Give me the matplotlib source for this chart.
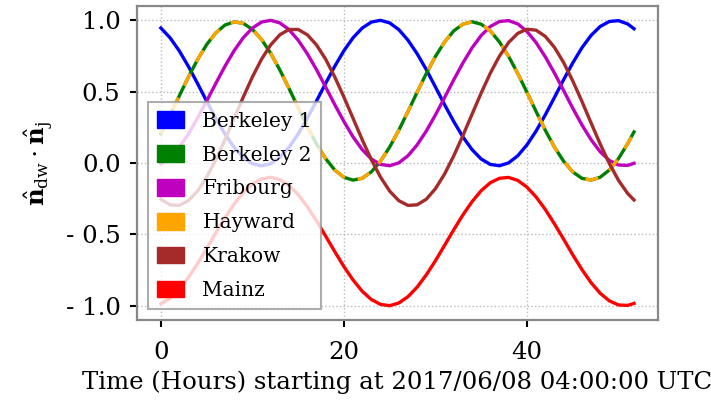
"""
Projection of the dark-matter wind direction onto each station's sensitive
axis, over roughly two days.
"""

import matplotlib
matplotlib.use("Agg")
import matplotlib.pyplot as plt
from matplotlib.patches import Patch
from matplotlib.ticker import FuncFormatter

plt.rcParams["font.family"] = ["DejaVu Serif"]
plt.rcParams["mathtext.fontset"] = "dejavuserif"

# time in hours since 2017/06/08 04:00:00 UTC
hours = list(range(52)) + [51.7]

berkeley_1 = [
    0.946, 0.878, 0.787, 0.678, 0.558, 0.434, 0.314, 0.203, 0.110, 0.039,
    -0.005, -0.020, -0.005, 0.039, 0.110, 0.203, 0.314, 0.434, 0.558, 0.678,
    0.787, 0.878, 0.946, 0.988, 1.000, 0.982, 0.935, 0.861, 0.766, 0.655,
    0.533, 0.409, 0.291, 0.183, 0.094, 0.028, -0.010, -0.019, 0.001, 0.051,
    0.127, 0.224, 0.337, 0.459, 0.583, 0.701, 0.807, 0.894, 0.957, 0.992,
    0.998, 0.975, 0.941,
]
berkeley_2 = [
    0.206, 0.334, 0.469, 0.602, 0.724, 0.830, 0.912, 0.967, 0.989, 0.979,
    0.937, 0.866, 0.769, 0.652, 0.523, 0.388, 0.256, 0.134, 0.031, -0.049,
    -0.100, -0.120, -0.107, -0.062, 0.013, 0.112, 0.230, 0.361, 0.496, 0.627,
    0.747, 0.848, 0.926, 0.973, 0.990, 0.973, 0.926, 0.848, 0.747, 0.627,
    0.496, 0.361, 0.230, 0.112, 0.013, -0.062, -0.107, -0.120, -0.100, -0.049,
    0.031, 0.135, 0.218,
]
fribourg = [
    -0.005, 0.039, 0.110, 0.203, 0.314, 0.434, 0.558, 0.678, 0.787, 0.878,
    0.946, 0.988, 1.000, 0.982, 0.935, 0.861, 0.766, 0.655, 0.533, 0.409,
    0.291, 0.183, 0.094, 0.028, -0.010, -0.019, 0.001, 0.051, 0.127, 0.224,
    0.337, 0.459, 0.583, 0.701, 0.807, 0.894, 0.957, 0.992, 0.998, 0.975,
    0.922, 0.844, 0.745, 0.631, 0.509, 0.385, 0.268, 0.164, 0.079, 0.018,
    -0.014, -0.017, -0.002,
]
# Hayward and Berkeley 2 share the same orientation, so the curves coincide
hayward = list(berkeley_2)
krakow = [
    -0.254, -0.293, -0.297, -0.264, -0.197, -0.099, 0.023, 0.163, 0.313, 0.462,
    0.603, 0.728, 0.828, 0.899, 0.936, 0.936, 0.899, 0.828, 0.728, 0.603,
    0.462, 0.313, 0.163, 0.023, -0.099, -0.197, -0.264, -0.297, -0.293, -0.254,
    -0.180, -0.077, 0.050, 0.192, 0.342, 0.491, 0.630, 0.750, 0.845, 0.909,
    0.938, 0.931, 0.888, 0.811, 0.705, 0.576, 0.433, 0.282, 0.134, -0.003,
    -0.121, -0.213, -0.259,
]
mainz = [
    -0.987, -0.948, -0.885, -0.803, -0.706, -0.599, -0.490, -0.384, -0.288, -0.208,
    -0.147, -0.111, -0.100, -0.116, -0.158, -0.222, -0.306, -0.405, -0.512, -0.621,
    -0.726, -0.820, -0.899, -0.957, -0.991, -1.000, -0.981, -0.937, -0.870, -0.784,
    -0.685, -0.577, -0.468, -0.364, -0.271, -0.194, -0.138, -0.107, -0.101, -0.122,
    -0.169, -0.238, -0.325, -0.426, -0.533, -0.643, -0.746, -0.838, -0.913, -0.966,
    -0.995, -0.998, -0.984,
]

stations = ["Berkeley 1", "Berkeley 2", "Fribourg", "Hayward", "Krakow", "Mainz"]
series = [berkeley_1, berkeley_2, fribourg, hayward, krakow, mainz]
colors = ["blue", "green", "m", "orange", "brown", "red"]

FS = 17.6

fig = plt.figure(figsize=(7.11, 4.05), dpi=100)
ax = fig.add_axes([0.193, 0.21, 0.732, 0.775])

for name, vals, c in zip(stations, series, colors):
    if name == "Hayward":
        # dashed so the green Berkeley 2 trace underneath stays visible
        ax.plot(hours, vals, color=c, linewidth=2.4, dashes=(4.0, 4.0))
    else:
        ax.plot(hours, vals, color=c, linewidth=2.4)

ax.set_ylim(-1.1, 1.1)
ax.set_xticks([0, 20, 40])
ax.set_yticks([-1.0, -0.5, 0.0, 0.5, 1.0])
ax.yaxis.set_major_formatter(
    FuncFormatter(lambda v, pos: f"- {abs(v):.1f}" if v < 0 else f"{v:.1f}"))
ax.grid(True, color="#bbbbbb", linestyle=":", linewidth=1.0)

for side, sp in ax.spines.items():
    sp.set_color("#888888")
    sp.set_linewidth(1.6)
ax.tick_params(axis="both", direction="out", length=5, width=1.5,
               colors="black", labelsize=FS)
ax.tick_params(axis="x", pad=10)
ax.tick_params(axis="y", pad=7)

ax.set_xlabel("Time (Hours) starting at 2017/06/08 04:00:00 UTC", fontsize=FS,
              labelpad=5)
ax.set_ylabel(r"$\hat{\mathbf{n}}_{\rm dw}\cdot\hat{\mathbf{n}}_{\rm j}$",
              fontsize=FS, labelpad=8)

handles = [Patch(facecolor=c, edgecolor=c) for c in colors]
leg = ax.legend(handles, stations, loc="lower left", fontsize=14.5,
                fancybox=False, framealpha=0.8, edgecolor="#999999",
                handlelength=1.34, handleheight=0.9, handletextpad=0.9,
                labelspacing=0.72, borderpad=0.45, borderaxespad=0.55)
leg.get_frame().set_linewidth(1.5)

fig.savefig("out.png", dpi=100)
